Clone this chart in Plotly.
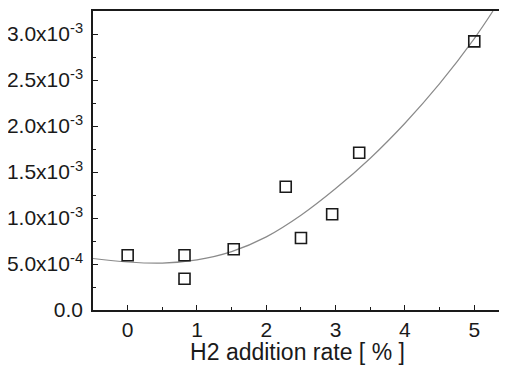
import plotly.graph_objects as go

# measured data points
h2_rate = [0.0, 0.82, 0.82, 1.53, 2.28, 2.50, 2.95, 3.34, 5.0]
value = [5.95e-4, 5.95e-4, 3.4e-4, 6.6e-4, 1.34e-3, 7.83e-4, 1.04e-3, 1.71e-3, 2.92e-3]

# fit curve
fit_x = [-0.5, 0.0, 0.5, 1.0, 1.5, 2.0, 2.5, 3.0, 3.5, 4.0, 4.5, 5.0, 5.27]
fit_y = [5.6e-4, 5.22e-4, 5.1e-4, 5.45e-4, 6.35e-4, 7.95e-4, 1.03e-3, 1.32e-3, 1.65e-3,
         2.03e-3, 2.46e-3, 2.95e-3, 3.25e-3]

y_tickvals = [0, 5e-4, 1e-3, 1.5e-3, 2e-3, 2.5e-3, 3e-3]
y_ticktext = ["0.0", "5.0x10<sup>-4</sup>", "1.0x10<sup>-3</sup>", "1.5x10<sup>-3</sup>",
              "2.0x10<sup>-3</sup>", "2.5x10<sup>-3</sup>", "3.0x10<sup>-3</sup>"]
x_tickvals = [0, 1, 2, 3, 4, 5]

fig = go.Figure()
fig.add_trace(go.Scatter(x=fit_x, y=fit_y, mode="lines", line=dict(color="#8a8a8a", width=1.2, shape="spline"),
                         showlegend=False, hoverinfo="skip"))
fig.add_trace(go.Scatter(x=h2_rate, y=value, mode="markers",
                         marker=dict(symbol="square-open", size=11, color="#1a1a1a", line=dict(width=1.6)),
                         showlegend=False))

font = dict(family="Liberation Sans, Arial, sans-serif", size=21, color="#1a1a1a")

fig.update_layout(
    width=499, height=357,
    margin=dict(l=85, r=5, t=3, b=55),
    paper_bgcolor="white", plot_bgcolor="white",
    font=font,
    xaxis=dict(range=[-0.5, 5.4], tickvals=x_tickvals, ticks="inside", ticklen=5, tickwidth=1.2,
               tickcolor="#1a1a1a", showline=True, linecolor="#1a1a1a", linewidth=1.5, mirror=True,
               showgrid=False, zeroline=False, automargin=False,
               minor=dict(tickmode="linear", tick0=0.5, dtick=1, ticks="inside", ticklen=3, tickcolor="#1a1a1a"),
               title=dict(text="H2 addition rate [ % ]", font=dict(size=23), standoff=0)),
    yaxis=dict(range=[0, 3.25e-3], tickvals=y_tickvals, ticktext=y_ticktext, ticks="inside", ticklen=5,
               tickwidth=1.2, tickcolor="#1a1a1a", showline=True, linecolor="#1a1a1a", linewidth=1.5,
               showgrid=False, zeroline=False, automargin=False, ticklabelstandoff=4,
               minor=dict(tickmode="linear", tick0=0, dtick=2.5e-4, ticks="inside", ticklen=3, tickcolor="#1a1a1a")),
)
fig.add_shape(type="line", xref="paper", yref="paper", x0=1, x1=1, y0=0, y1=1,
              line=dict(color="#cfcfcf", width=1))

fig.write_html("out.html")
